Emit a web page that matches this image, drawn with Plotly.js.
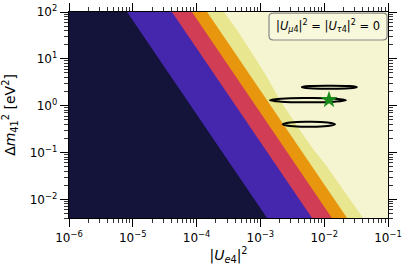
<!DOCTYPE html>
<html><head><meta charset="utf-8">
<script src="https://cdn.plot.ly/plotly-3.0.1.min.js"></script>
<style>html,body{margin:0;padding:0;background:#fff}#plot{width:405px;height:270px}</style>
</head><body><div id="plot"></div>
<script>
// axis ranges (data units)
const xRange = [1e-6, 1e-1];
const yRange = [0.004, 100];
// contour boundaries (|U_e4|^2 at top and bottom of the Δm² range)
const bndNavyU   = [8.13e-6, 1.27e-3];   const bndNavyDm   = [100, 0.004];
const bndPurpleU = [4.11e-5, 6.44e-3];   const bndPurpleDm = [100, 0.004];
const bndRedU    = [8.47e-5, 1.32e-2];   const bndRedDm    = [100, 0.004];
const bndOrangeU = [1.46e-4, 2.28e-2];   const bndOrangeDm = [100, 0.004];
const bndYellowU  = [2.69e-4, 4.30e-4, 6.87e-4, 1.22e-3, 2.03e-3, 3.02e-3, 4.49e-3, 6.92e-3, 1.07e-2, 1.77e-2, 2.63e-2, 4.06e-2];
const bndYellowDm = [100, 41.2, 15.4, 4.49, 1.31, 0.567, 0.258, 0.112, 0.0533, 0.0199, 0.00953, 0.004];
// allowed-region contours
const ell1U  = [0.0324, 0.0242, 0.0120, 0.00597, 0.00447, 0.00597, 0.0120, 0.0242, 0.0324];
const ell1Dm = [2.489, 2.622, 2.679, 2.622, 2.489, 2.362, 2.312, 2.362, 2.489];
const ell2U  = [0.02188, 0.01466, 0.005559, 0.002109, 0.001413, 0.002109, 0.005559, 0.01466, 0.02188];
const ell2Dm = [1.312, 1.412, 1.455, 1.412, 1.312, 1.220, 1.183, 1.220, 1.312];
const ell3U  = [0.01479, 0.01122, 0.005754, 0.002951, 0.002239, 0.002951, 0.005754, 0.01122, 0.01479];
const ell3Dm = [0.4018, 0.4395, 0.4560, 0.4395, 0.4018, 0.3673, 0.3540, 0.3673, 0.4018];
// best fit
const bestU = [0.0119];
const bestDm = [1.33];
// ticks
const xTickVals = [1e-6, 1e-5, 1e-4, 1e-3, 1e-2, 1e-1];
const xTickText = ['10<sup>−6</sup>','10<sup>−5</sup>','10<sup>−4</sup>','10<sup>−3</sup>','10<sup>−2</sup>','10<sup>−1</sup>'];
const yTickVals = [1e-2, 1e-1, 1, 10, 100];
const yTickText = ['10<sup>−2</sup>','10<sup>−1</sup>','10<sup>0</sup>','10<sup>1</sup>','10<sup>2</sup>'];

const colors = {navy:'#14133a', purple:'#4427ad', red:'#d23d56', orange:'#e8960e', yellow:'#e8e68e', light:'#f5f5d2'};

function band(u, dm, color){
  return {type:'scatter', mode:'lines', x: u.concat([xRange[0], xRange[0]]), y: dm.concat([yRange[0], yRange[1]]),
          fill:'toself', fillcolor:color, line:{width:0}, hoverinfo:'skip', showlegend:false};
}
function ell(u, dm){
  return {type:'scatter', mode:'lines', x:u, y:dm, line:{color:'#000', width:2, shape:'spline', smoothing:1.3}, showlegend:false};
}
const traces = [
  band(bndYellowU, bndYellowDm, colors.yellow),
  band(bndOrangeU, bndOrangeDm, colors.orange),
  band(bndRedU, bndRedDm, colors.red),
  band(bndPurpleU, bndPurpleDm, colors.purple),
  band(bndNavyU, bndNavyDm, colors.navy),
  ell(ell1U, ell1Dm), ell(ell2U, ell2Dm), ell(ell3U, ell3Dm),
  {type:'scatter', mode:'markers', x:bestU, y:bestDm, marker:{symbol:'star', size:13, color:'#1a8a1a', line:{width:0}}, showlegend:false}
];
const axisCommon = {type:'log', showgrid:false, zeroline:false, showline:true, linecolor:'#000', linewidth:1.3,
  mirror:'ticks', ticks:'outside', ticklen:8, tickwidth:1, tickcolor:'#000', tickmode:'array',
  tickfont:{family:'DejaVu Sans', size:12, color:'#000'},
  minor:{ticks:'outside', ticklen:4, tickwidth:0.8, tickcolor:'#000', dtick:'D1', showgrid:false}};
const layout = {
  width:405, height:270, margin:{l:69, r:17, t:12, b:52},
  paper_bgcolor:'#fff', plot_bgcolor:colors.light, showlegend:false,
  xaxis: Object.assign({}, axisCommon, {range:[Math.log10(xRange[0]), Math.log10(xRange[1])], tickvals:xTickVals, ticktext:xTickText,
     title:{text:'|<i>U</i><sub><i>e</i>4</sub>|<sup>2</sup>', font:{family:'DejaVu Sans', size:14, color:'#000'}, standoff:3}}),
  yaxis: Object.assign({}, axisCommon, {range:[Math.log10(yRange[0]), Math.log10(yRange[1])], tickvals:yTickVals, ticktext:yTickText,
     title:{text:'Δ<i>m</i><sub>41</sub><sup>2</sup> [eV<sup>2</sup>]', font:{family:'DejaVu Sans', size:14, color:'#000'}, standoff:12}}),
  shapes:[{type:'path', xref:'paper', yref:'paper', layer:'above',
     path:'M 0.640 0.864 L 0.984 0.864 Q 0.997 0.864 0.997 0.883 L 0.997 0.976 Q 0.997 0.995 0.984 0.995 L 0.640 0.995 Q 0.627 0.995 0.627 0.976 L 0.627 0.883 Q 0.627 0.864 0.640 0.864 Z',
     fillcolor:'rgba(248,248,222,0.85)', line:{color:'#888', width:1.2}}],
  annotations:[{xref:'paper', yref:'paper', x:0.812, y:0.930, xanchor:'center', yanchor:'middle', showarrow:false,
     text:'|<i>U</i><sub><i>μ</i>4</sub>|<sup>2</sup> = |<i>U</i><sub><i>τ</i>4</sub>|<sup>2</sup> = 0',
     font:{family:'DejaVu Sans', size:11.5, color:'#000'}}]
};
Plotly.newPlot('plot', traces, layout, {staticPlot:true, displayModeBar:false});
</script></body></html>
